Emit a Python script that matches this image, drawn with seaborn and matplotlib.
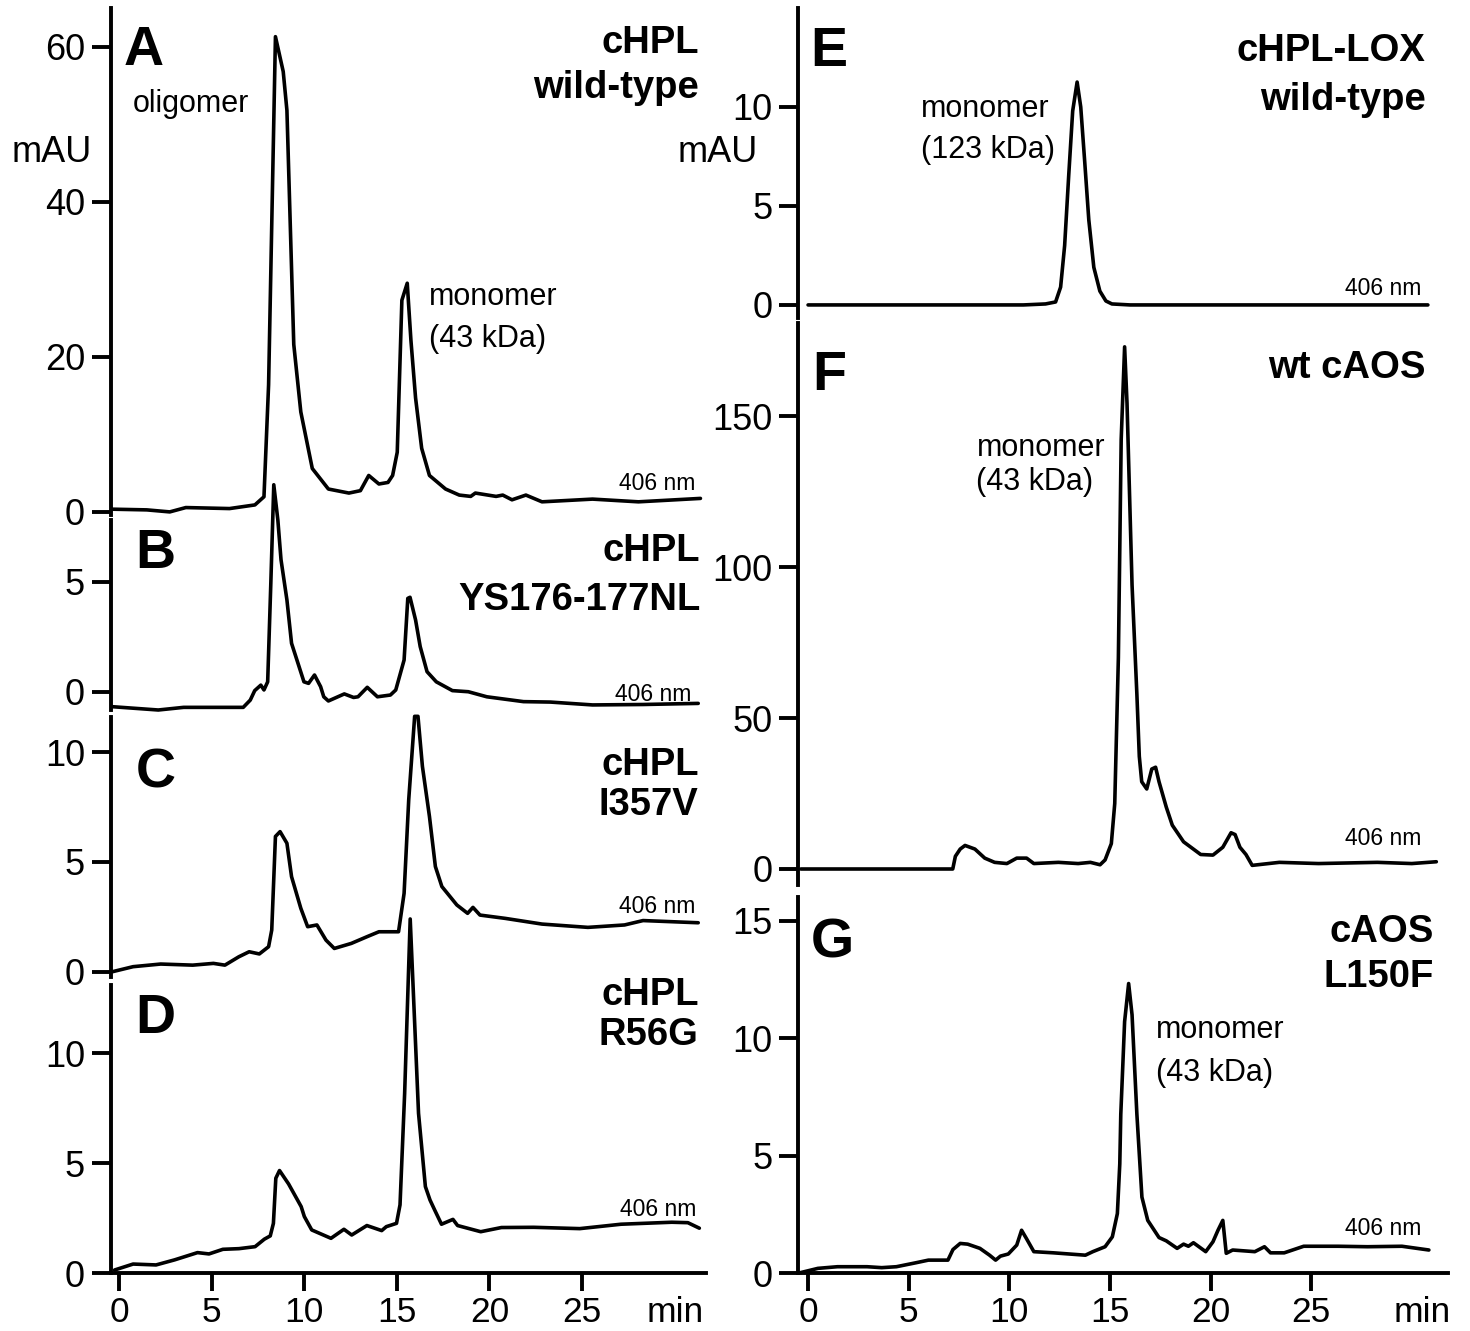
import numpy as np
import pandas as pd
import seaborn as sns
import matplotlib.pyplot as plt

sns.set_style('ticks')
plt.rcParams['font.family'] = ['Liberation Sans', 'DejaVu Sans']
plt.rcParams['text.color'] = 'black'
plt.rcParams['axes.edgecolor'] = 'black'
plt.rcParams['xtick.color'] = 'black'
plt.rcParams['ytick.color'] = 'black'
plt.rcParams['axes.labelcolor'] = 'black'

# chromatogram traces (min, mAU)
a_time = [-0.37, 1.49, 2.73, 3.6, 5.96, 7.33, 7.82, 8.07, 8.44, 8.86, 9.06, 9.43, 9.81, 10.43, 11.3,
          12.41, 13.03, 13.48, 14.03, 14.52, 14.77, 15.02, 15.27, 15.56, 15.76, 16.01, 16.34, 16.76,
          17.63, 18.37, 18.99, 19.24, 20.36, 20.72, 21.22, 21.97, 22.84, 25.57, 28.05, 31.4]
a_mau = [0.35, 0.26, 0.0, 0.56, 0.43, 0.9, 1.95, 16.4, 61.3, 56.8, 51.8, 21.6, 12.9, 5.6, 2.95,
         2.43, 2.74, 4.7, 3.6, 3.8, 4.7, 7.7, 27.3, 29.5, 22.1, 14.7, 8.2, 4.7,
         2.95, 2.17, 2.0, 2.43, 2.0, 2.17, 1.56, 2.17, 1.3, 1.65, 1.3, 1.74]

b_time = [-0.37, 2.11, 3.48, 6.7, 7.08, 7.32, 7.65, 7.82, 8.02, 8.19, 8.35, 8.57, 8.74, 9.06, 9.31,
          9.98, 10.23, 10.55, 10.88, 11.05, 11.3, 12.16, 12.66, 12.9, 13.4, 13.95, 14.65, 14.94,
          15.39, 15.59, 15.71, 16.01, 16.26, 16.63, 17.13, 18.0, 18.86, 19.86, 21.84, 23.3, 25.57,
          28.3, 31.28]
b_mau = [-0.68, -0.83, -0.71, -0.71, -0.38, 0.05, 0.3, 0.08, 0.45, 4.92, 9.4, 7.8, 6.0, 4.17, 2.2,
         0.45, 0.38, 0.76, 0.23, -0.23, -0.42, -0.1, -0.26, -0.23, 0.2, -0.23, -0.15, 0.08,
         1.44, 4.24, 4.29, 3.26, 2.05, 0.91, 0.45, 0.05, 0.0, -0.23, -0.45, -0.47, -0.6,
         -0.58, -0.53]

c_time = [-0.37, 0.75, 2.24, 3.97, 5.09, 5.71, 6.46, 7.02, 7.57, 8.07, 8.24, 8.44, 8.69, 9.06, 9.31,
          9.81, 10.18, 10.68, 11.17, 11.62, 12.54, 13.4, 14.03, 15.09, 15.39, 15.64, 15.96, 16.14,
          16.38, 16.76, 17.08, 17.43, 18.24, 18.82, 19.11, 19.49, 20.85, 22.84, 25.32, 27.3, 28.3,
          31.28]
c_mau = [0.0, 0.23, 0.35, 0.3, 0.38, 0.3, 0.68, 0.91, 0.81, 1.14, 1.9, 6.16, 6.38, 5.85, 4.33,
         2.89, 2.05, 2.13, 1.44, 1.06, 1.29, 1.6, 1.82, 1.82, 3.57, 7.83, 11.63, 11.63,
         9.35, 7.07, 4.79, 3.88, 3.04, 2.66, 2.93, 2.58, 2.43, 2.17, 2.02, 2.13, 2.33,
         2.23]

d_time = [-0.25, 0.75, 1.99, 2.99, 4.23, 4.85, 5.6, 6.47, 7.34, 7.84, 8.16, 8.33, 8.46, 8.66, 9.15,
          9.83, 10.0, 10.4, 11.44, 12.14, 12.56, 13.38, 14.18, 14.43, 14.98, 15.17, 15.42, 15.72,
          16.17, 16.54, 16.79, 17.04, 17.41, 18.03, 18.28, 19.53, 20.65, 22.39, 24.88, 27.11, 29.85,
          30.72, 31.34]
d_mau = [0.15, 0.42, 0.38, 0.61, 0.94, 0.88, 1.09, 1.12, 1.21, 1.55, 1.7, 2.27, 4.32, 4.67, 4.06,
         3.03, 2.58, 1.97, 1.59, 2.0, 1.74, 2.17, 1.94, 2.12, 2.27, 3.11, 8.18, 16.1,
         7.27, 3.94, 3.33, 2.88, 2.23, 2.45, 2.17, 1.89, 2.08, 2.09, 2.03, 2.23, 2.32,
         2.3, 2.05]

e_time = [0.0, 10.7, 11.8, 12.3, 12.55, 12.75, 12.95, 13.15, 13.37, 13.55, 13.75, 13.95, 14.2,
          14.5, 14.8, 15.1, 16.0, 30.8]
e_mau = [0.0, 0.0, 0.05, 0.15, 0.9, 3.0, 6.5, 9.8, 11.26, 10.0, 7.2, 4.3, 1.9,
         0.7, 0.2, 0.05, 0.0, 0.0]

f_time = [-0.36, 7.19, 7.32, 7.56, 7.8, 8.29, 8.78, 9.27, 9.88, 10.37, 10.86, 11.22, 12.44, 13.42,
          14.03, 14.51, 14.76, 15.07, 15.24, 15.42, 15.56, 15.73, 15.85, 16.1, 16.34, 16.46, 16.58,
          16.83, 17.08, 17.27, 17.44, 17.8, 18.1, 18.66, 19.51, 20.12, 20.61, 21.02, 21.22, 21.46,
          21.76, 22.07, 23.42, 25.37, 28.29, 30.0, 31.22]
f_mau = [0.0, 0.0, 4.2, 6.6, 7.8, 6.6, 3.6, 2.2, 1.8, 3.6, 3.6, 1.8, 2.2, 1.8,
         2.2, 1.4, 3.0, 8.4, 21.7, 69.9, 142.2, 172.9, 154.2, 94.0, 57.8, 37.3, 28.9,
         26.5, 33.1, 33.7, 28.9, 20.5, 14.5, 9.0, 4.8, 4.6, 7.2, 12.0, 11.4, 7.2,
         4.8, 1.2, 2.2, 1.8, 2.2, 1.8, 2.4]

g_time = [-0.37, 0.49, 1.46, 2.93, 3.66, 4.39, 5.37, 5.98, 6.95, 7.2, 7.56, 7.93, 8.54, 9.02, 9.32,
          9.56, 9.95, 10.37, 10.61, 10.85, 11.22, 12.2, 13.78, 14.15, 14.76, 15.12, 15.37, 15.49,
          15.54, 15.73, 15.93, 16.1, 16.34, 16.59, 16.88, 17.44, 17.8, 18.34, 18.66, 18.9, 19.15,
          19.76, 20.12, 20.37, 20.61, 20.78, 21.1, 22.2, 22.68, 22.98, 23.66, 24.63, 26.34, 27.8,
          29.51, 30.85]
g_mau = [0.03, 0.21, 0.28, 0.28, 0.24, 0.28, 0.45, 0.56, 0.56, 1.01, 1.27, 1.24, 1.06, 0.77, 0.56,
         0.73, 0.82, 1.2, 1.83, 1.48, 0.92, 0.87, 0.77, 0.92, 1.13, 1.55, 2.54, 4.65,
         6.76, 10.7, 12.32, 10.99, 6.76, 3.24, 2.25, 1.52, 1.38, 1.06, 1.24, 1.15, 1.3,
         0.92, 1.34, 1.83, 2.25, 0.85, 0.99, 0.92, 1.13, 0.87, 0.87, 1.15, 1.15, 1.13,
         1.15, 0.99]

panel_letters = ['A', 'B', 'C', 'D', 'E', 'F', 'G']
sample_names = [['cHPL', 'wild-type'], ['cHPL', 'YS176-177NL'], ['cHPL', 'I357V'], ['cHPL', 'R56G'],
                ['cHPL-LOX', 'wild-type'], ['wt cAOS'], ['cAOS', 'L150F']]
x_ticks = [0, 5, 10, 15, 20, 25]
wavelength = '406 nm'
y_unit = 'mAU'
x_unit = 'min'

W, H = 1470, 1331
fig = plt.figure(figsize=(W / 100, H / 100), dpi=100)

TICK = 26
BOLD = 27.5
LETTER = 40
NOTE = 22
NM = 16.5
LW = 2.8


def add_ax(x0, x1, y_top, y_bot):
    return fig.add_axes([x0 / W, 1 - y_bot / H, (x1 - x0) / W, (y_bot - y_top) / H])


# layout: pixel box, limits, ticks, text positions (data coords)
panels = [
    dict(box=(110.7, 706, 8, 515), xlim=(-0.46, 31.7), ylim=(-0.4, 65.0), yt=[0, 20, 40, 60],
         t=a_time, y=a_mau, letter=(0.26, 62.8), names=(31.3, [62.8, 57.0]), nm=(31.15, 5.2),
         notes=[(0.75, [54.5], ['oligomer']), (16.75, [29.6, 24.2], ['monomer', '(43 kDa)'])]),
    dict(box=(110.7, 706, 520, 710), xlim=(-0.46, 31.7), ylim=(-0.83, 7.8), yt=[0, 5],
         t=b_time, y=b_mau, letter=(0.87, 7.44), names=(31.4, [7.2, 5.0]), nm=(30.9, 0.41), notes=[]),
    dict(box=(110.7, 706, 717, 977), xlim=(-0.46, 31.7), ylim=(-0.24, 11.6), yt=[0, 5, 10],
         t=c_time, y=c_mau, letter=(0.87, 10.2), names=(31.3, [10.24, 8.42]), nm=(31.15, 3.5), notes=[]),
    dict(box=(110.7, 706, 985, 1273.3), xlim=(-0.46, 31.7), ylim=(0, 13.1), yt=[0, 5, 10],
         t=d_time, y=d_mau, letter=(0.87, 12.74), names=(31.3, [13.47, 11.66]), nm=(31.2, 3.41),
         notes=[], xaxis=30.05),
    dict(box=(798, 1448, 8, 318), xlim=(-0.5, 31.8), ylim=(-0.66, 15.0), yt=[0, 5, 10],
         t=e_time, y=e_mau, letter=(0.12, 14.1), names=(30.7, [13.74, 11.26]), nm=(30.5, 1.43),
         notes=[(5.6, [10.68, 8.59], ['monomer', '(123 kDa)'])]),
    dict(box=(798, 1448, 323, 885), xlim=(-0.5, 31.8), ylim=(-5.3, 180.8), yt=[0, 50, 100, 150],
         t=f_time, y=f_mau, letter=(0.2, 171.7), names=(30.7, [171.7]), nm=(30.5, 13.9),
         notes=[(8.37, [144.3, 133.1], ['monomer', '(43 kDa)'])]),
    dict(box=(798, 1448, 897, 1273.3), xlim=(-0.5, 31.8), ylim=(0, 16.0), yt=[0, 5, 10, 15],
         t=g_time, y=g_mau, letter=(0.12, 15.14), names=(31.1, [15.28, 13.38]), nm=(30.5, 2.39),
         notes=[(17.3, [10.97, 9.15], ['monomer', '(43 kDa)'])], xaxis=30.5),
]

for i, p in enumerate(panels):
    ax = add_ax(*p['box'])
    df = pd.DataFrame({'time': p['t'], 'mau': p['y']})
    sns.lineplot(data=df, x='time', y='mau', ax=ax, color='black', lw=2.6,
                 sort=False, estimator=None, clip_on=False)
    ax.set_xlim(*p['xlim'])
    ax.set_ylim(*p['ylim'])
    ax.set_xlabel('')
    ax.set_ylabel('')
    ax.patch.set_alpha(0)
    for s in ['top', 'right']:
        ax.spines[s].set_visible(False)
    ax.spines['left'].set_linewidth(LW)
    ax.spines['bottom'].set_linewidth(LW)
    ax.set_yticks(p['yt'])
    ax.set_yticklabels([str(v) for v in p['yt']])
    ax.tick_params(axis='y', direction='out', length=13.5, width=LW, labelsize=TICK, pad=5)
    if 'xaxis' in p:
        ax.set_xticks(x_ticks + [p['xaxis']])
        ax.set_xticklabels([str(v) for v in x_ticks] + [x_unit])
        ax.tick_params(axis='x', direction='out', length=13, width=LW, labelsize=25.5, pad=3)
        ax.xaxis.get_major_ticks()[-1].tick1line.set_visible(False)
    else:
        ax.spines['bottom'].set_visible(False)
        ax.set_xticks([])

    lx, ly = p['letter']
    ax.text(lx, ly, panel_letters[i], fontsize=LETTER, fontweight='bold', ha='left', va='top')
    nx, tops = p['names']
    for name, top in zip(sample_names[i], tops):
        ax.text(nx, top, name, fontsize=BOLD, fontweight='bold', ha='right', va='top')
    mx, my = p['nm']
    ax.text(mx, my, wavelength, fontsize=NM, ha='right', va='top')
    for tx, ttops, lines in p['notes']:
        for line, top in zip(lines, ttops):
            ax.text(tx, top, line, fontsize=NOTE, ha='left', va='top')

fig.text(52 / W, 1 - 153 / H, y_unit, fontsize=TICK, ha='center', va='center')
fig.text(718 / W, 1 - 153 / H, y_unit, fontsize=TICK, ha='center', va='center')

fig.savefig('out.png', dpi=100)
